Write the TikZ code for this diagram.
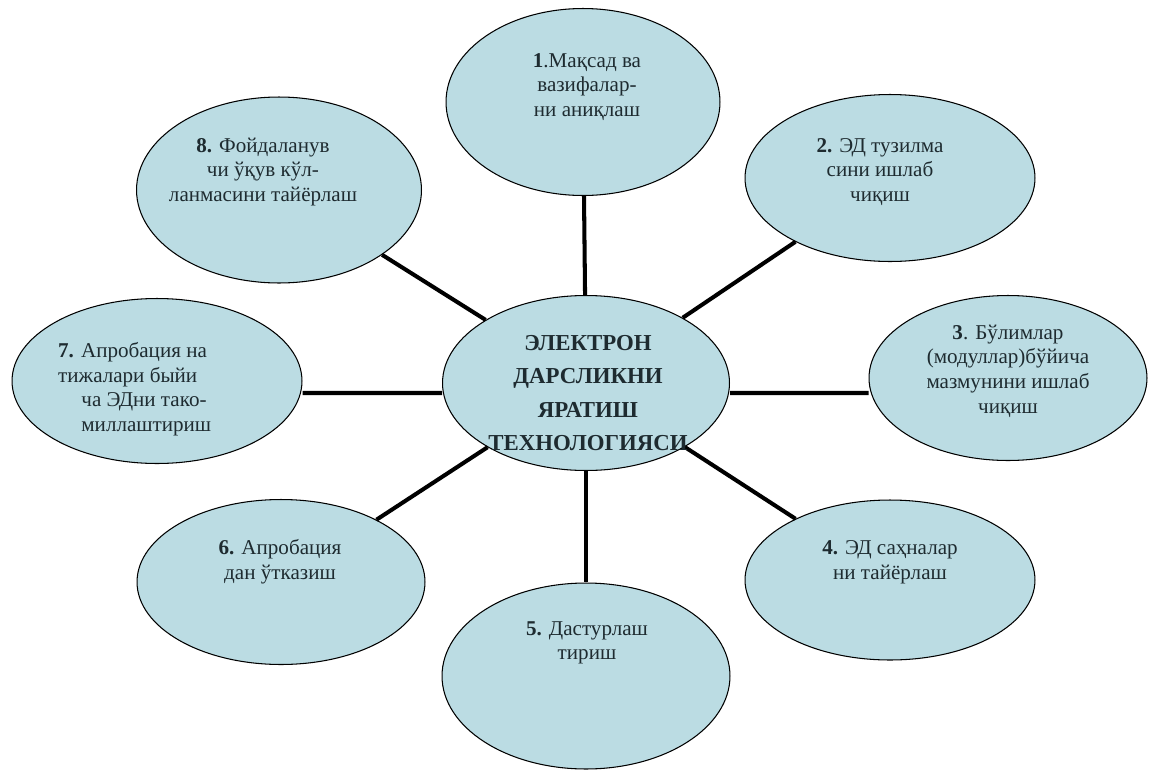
\documentclass[tikz,border=0pt]{standalone}
\usepackage{fontspec}
\setmainfont{Liberation Serif}
\usepackage[HTML]{xcolor}
\usetikzlibrary{shapes.geometric}
\definecolor{petalfill}{HTML}{BBDCE3}
\definecolor{petaltext}{HTML}{1E2B30}

\begin{document}
\begin{tikzpicture}[x=0.02cm,y=-0.02cm,
  petal/.style={ellipse, draw=black, line width=0.6pt, fill=petalfill, inner sep=0pt},
  txt/.style={align=center, text=petaltext, font=\fontsize{12}{14}\selectfont},
  spoke/.style={line width=2.3pt}]
\useasboundingbox (0,0) rectangle (1150,771);
% ellipses
\node[petal, minimum width=5.74cm, minimum height=3.5cm] (c) at (586,383) {};
\node[petal, minimum width=5.48cm, minimum height=3.74cm] (n1) at (583,102) {};
\node[petal, minimum width=5.8cm, minimum height=3.34cm] (n2) at (890,178) {};
\node[petal, minimum width=5.56cm, minimum height=3.3cm] (n3) at (1008,378) {};
\node[petal, minimum width=5.8cm, minimum height=3.2cm] (n4) at (890,580) {};
\node[petal, minimum width=5.76cm, minimum height=3.72cm] (n5) at (586,676) {};
\node[petal, minimum width=5.76cm, minimum height=3.3cm] (n6) at (281,582) {};
\node[petal, minimum width=5.8cm, minimum height=3.3cm] (n7) at (157,381) {};
\node[petal, minimum width=5.7cm, minimum height=3.72cm] (n8) at (279,190) {};
% spokes
\foreach \n in {n1,n2,n4,n5,n6,n8}
  \draw[spoke] (c) -- (\n);
\draw[spoke] ([yshift=-0.2cm]c.west) -- ([yshift=-0.24cm]n7.east);
\draw[spoke] ([yshift=-0.2cm]c.east) -- ([yshift=-0.3cm]n3.west);
% texts
\node[txt, font=\bfseries\fontsize{13}{19}\selectfont] (tc) at (588,393) {ЭЛЕКТРОН\\ДАРСЛИКНИ\\ЯРАТИШ\\ТЕХНОЛОГИЯСИ};
\node[txt] (t1) at (587,87) {\textbf{1}.Мақсад ва\\вазифалар-\\ни аниқлаш};
\node[txt] (t2) at (880,172) {\textbf{2.} ЭД тузилма\\сини ишлаб\\чиқиш};
\node[txt] (t3) at (1008,371) {\textbf{3}. Бўлимлар\\(модуллар)бўйича\\мазмунини ишлаб\\чиқиш};
\node[txt] (t4) at (890,562) {\textbf{4.} ЭД саҳналар\\ни тайёрлаш};
\node[txt] (t5) at (587,643) {\textbf{5.} Дастурлаш\\тириш};
\node[txt] (t6) at (280,562) {\textbf{6.} Апробация\\дан ўтказиш};
\node[txt, align=left, anchor=west] (t7) at (52,389) {\textbf{7.} Апробация на\\тижалари быйи\\\hspace*{1.1em}ча ЭДни тако-\\\hspace*{1.1em}миллаштириш};
\node[txt] (t8) at (263,172) {\textbf{8.} Фойдаланув\\чи ўқув кўл-\\ланмасини тайёрлаш};
\end{tikzpicture}
\end{document}
